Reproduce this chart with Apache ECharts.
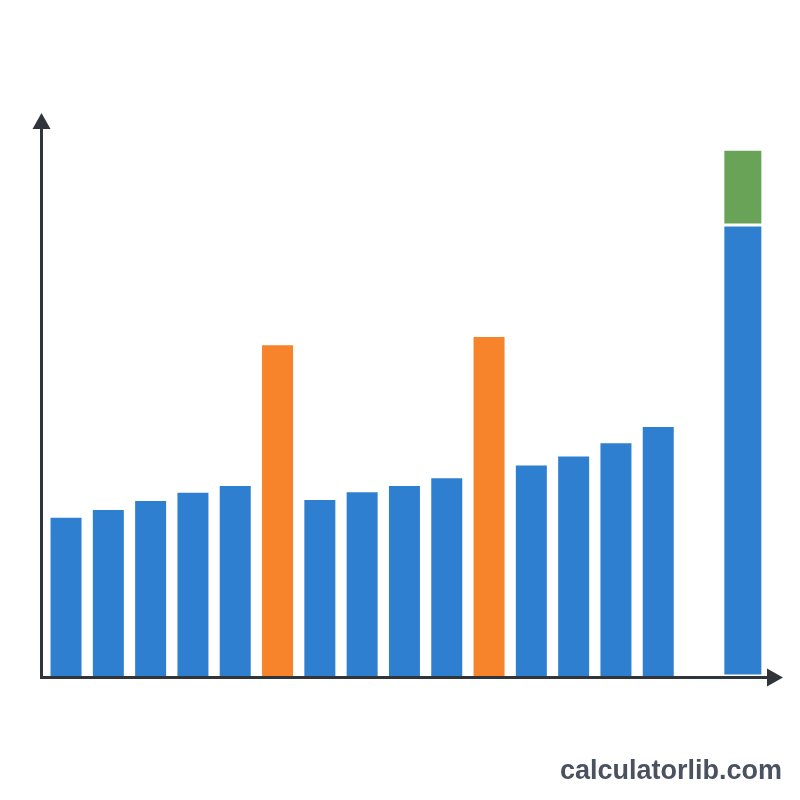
<!DOCTYPE html>
<html>
<head>
<meta charset="utf-8">
<script src="https://cdn.jsdelivr.net/npm/echarts@6/dist/echarts.min.js"></script>
<style>
  html, body { margin: 0; padding: 0; background: #ffffff; }
  #chart { width: 800px; height: 800px; }
</style>
</head>
<body>
<div id="chart"></div>
<script>
// bar slots along the x axis (slot 15 is left empty before the total bar)
const slots = [0, 1, 2, 3, 4, 5, 6, 7, 8, 9, 10, 11, 12, 13, 14];
const values = [28.7, 30.1, 31.7, 33.2, 34.4, 59.7, 31.9, 33.3, 34.4, 35.8, 61.2, 38.1, 39.7, 42.1, 45.0];
const highlighted = [5, 10];
const totalSlot = 16;
const totalBase = 81.6;
const totalAll = 95.2;

const blue = "#2f7fd0";
const orange = "#f7832a";
const green = "#68a358";
const axisColor = "#30343b";

const chart = echarts.init(document.getElementById("chart"));

const axisLine = {
    show: true,
    onZero: false,
    symbol: ["none", "triangle"],
    symbolSize: [18, 16],
    lineStyle: { color: axisColor, width: 3, cap: "square" },
};

chart.setOption({
    backgroundColor: "#ffffff",
    animation: false,
    grid: { left: 41.5, right: 25, top: 121, bottom: 122.5 },
    xAxis: [
        {
            type: "value", min: -0.58, max: 16.76, z: 5,
            axisLine: axisLine,
            axisTick: { show: false }, axisLabel: { show: false }, splitLine: { show: false },
        },
        { type: "value", min: -0.58, max: 16.76, show: false },
    ],
    yAxis: {
        type: "value", min: 0, max: 100, z: 5,
        axisLine: axisLine,
        axisTick: { show: false }, axisLabel: { show: false }, splitLine: { show: false },
    },
    series: [
        {
            type: "bar",
            xAxisIndex: 0,
            barWidth: 31,
            data: slots.map((s, i) => ({
                value: [s, values[i]],
                itemStyle: { color: highlighted.includes(i) ? orange : blue },
            })),
        },
        {
            // top segment of the total bar, drawn behind the base
            type: "bar",
            xAxisIndex: 1,
            barWidth: 43,
            barGap: "-100%",
            itemStyle: { color: green, borderColor: "#ffffff", borderWidth: 3 },
            data: [[totalSlot, totalAll]],
        },
        {
            type: "bar",
            xAxisIndex: 1,
            barWidth: 43,
            barGap: "-100%",
            itemStyle: { color: blue, borderColor: "#ffffff", borderWidth: 3 },
            data: [[totalSlot, totalBase]],
        },
    ],
    graphic: [
        {
            type: "text",
            x: 782,
            y: 772,
            style: {
                text: "calculatorlib.com",
                fill: "#4a5261",
                font: "bold 27px 'Liberation Sans', Arial, sans-serif",
                textAlign: "right",
                textVerticalAlign: "middle",
            },
        },
    ],
});
</script>
</body>
</html>
